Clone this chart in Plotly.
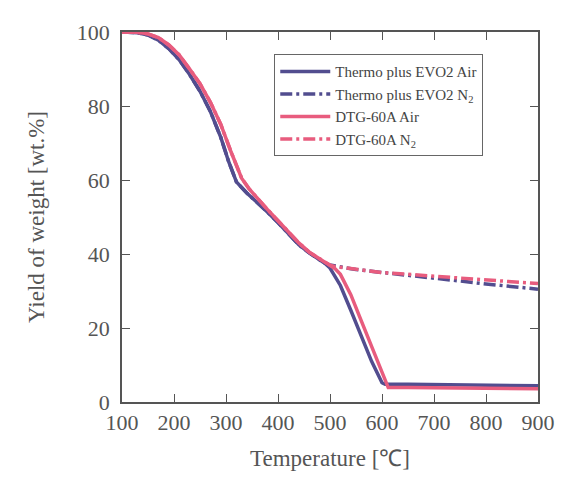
import plotly.graph_objects as go

# Thermo plus EVO2 (common part up to ~490 C)
evo_T_common = [100, 130, 150, 170, 190, 210, 230, 250, 270, 290, 305, 320, 340, 360, 380, 400, 420, 440, 460, 480, 490]
evo_Y_common = [100, 99.8, 99.2, 97.8, 95.5, 92.5, 88.5, 84, 78.5, 71.5, 65, 59.5, 56.5, 54, 51.3, 48.5, 45.5, 42.5, 40.3, 38.5, 37.5]
evo_air_T = [500, 520, 540, 560, 580, 600, 606, 650, 700, 750, 800, 850, 900]
evo_air_Y = [36.2, 31.5, 24.8, 17.8, 11, 5.2, 4.8, 4.8, 4.7, 4.7, 4.6, 4.5, 4.4]
evo_n2_T = [500, 550, 600, 650, 700, 750, 800, 850, 900]
evo_n2_Y = [37, 35.8, 35, 34.3, 33.5, 32.7, 31.9, 31.2, 30.5]

# DTG-60A (common part up to ~500 C)
dtg_T_common = [100, 130, 150, 170, 190, 210, 230, 250, 270, 290, 310, 330, 345, 360, 380, 400, 420, 440, 460, 480, 500]
dtg_Y_common = [100, 99.9, 99.5, 98.5, 96.5, 93.8, 90, 86, 81, 75, 67.5, 60.5, 57.5, 55, 52, 49, 46, 43, 40.5, 38.8, 37]
dtg_air_T = [510, 520, 540, 560, 580, 600, 612, 650, 700, 750, 800, 850, 900]
dtg_air_Y = [36, 34.5, 29, 22, 15, 8, 3.9, 3.9, 3.8, 3.8, 3.7, 3.7, 3.6]
dtg_n2_T = [510, 550, 600, 650, 700, 750, 800, 850, 900]
dtg_n2_Y = [36.6, 35.8, 35, 34.5, 34, 33.5, 33, 32.5, 32]

x_ticks = [100, 200, 300, 400, 500, 600, 700, 800, 900]
y_ticks = [0, 20, 40, 60, 80, 100]

BLUE = "#524d8f"
RED = "#e85c7e"
FONT = "Liberation Serif"
DASHDOT = "12px,4px,3px,4px"

fig = go.Figure()
fig.add_trace(go.Scatter(x=evo_T_common + evo_air_T, y=evo_Y_common + evo_air_Y, mode="lines",
                         line=dict(color=BLUE, width=3.5), name="Thermo plus EVO2 Air"))
fig.add_trace(go.Scatter(x=evo_T_common + evo_n2_T, y=evo_Y_common + evo_n2_Y, mode="lines",
                         line=dict(color=BLUE, width=3.5, dash=DASHDOT), name="Thermo plus EVO2 N<sub>2</sub>"))
fig.add_trace(go.Scatter(x=dtg_T_common + dtg_air_T, y=dtg_Y_common + dtg_air_Y, mode="lines",
                         line=dict(color=RED, width=3.5), name="DTG-60A Air"))
fig.add_trace(go.Scatter(x=dtg_T_common + dtg_n2_T, y=dtg_Y_common + dtg_n2_Y, mode="lines",
                         line=dict(color=RED, width=3.5, dash=DASHDOT), name="DTG-60A N<sub>2</sub>"))

axis_common = dict(showline=True, linecolor="#555", linewidth=1.5, mirror="ticks",
                   ticks="inside", ticklen=8, tickcolor="#555", tickwidth=1,
                   showgrid=False, zeroline=False,
                   tickfont=dict(family=FONT, size=22, color="#555"))

fig.update_xaxes(range=[100, 900], tickvals=x_ticks, ticktext=[str(v) for v in x_ticks],
                 title=dict(text="Temperature [℃]", font=dict(family=FONT, size=23, color="#555"), standoff=16),
                 **axis_common)
fig.update_yaxes(range=[0, 100], tickvals=y_ticks, ticktext=[str(v) for v in y_ticks],
                 ticklabelstandoff=6,
                 title=dict(text="Yield of weight [wt.%]", font=dict(family=FONT, size=23, color="#555"), standoff=26),
                 **axis_common)

fig.update_layout(
    width=559, height=471,
    margin=dict(l=114, r=22, t=15, b=73),
    plot_bgcolor="white", paper_bgcolor="white",
    font=dict(family=FONT, color="#444"),
    legend=dict(x=0.366, y=0.94, xanchor="left", yanchor="top",
                bgcolor="white", bordercolor="#666", borderwidth=1,
                font=dict(family=FONT, size=15, color="#444"),
                itemwidth=50, tracegroupgap=0),
)

fig.write_html("out.html")
